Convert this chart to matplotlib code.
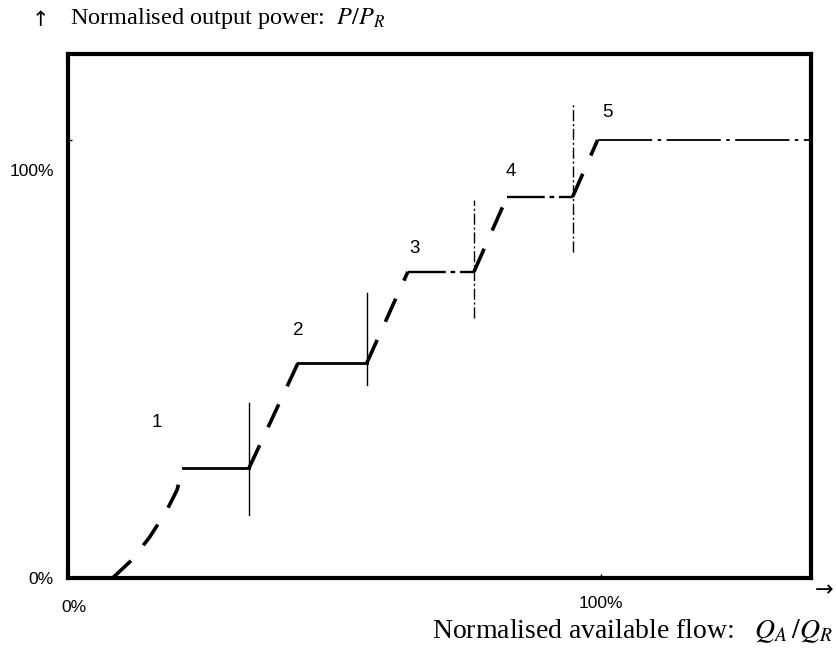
import matplotlib
matplotlib.use("Agg")
import matplotlib.pyplot as plt
import matplotlib.transforms as mtransforms

plt.rcParams["mathtext.fontset"] = "stix"

# rising (dashed) part of the curve: flow % -> power %
rise_x = [[8.4, 12.0, 15.4, 18.6, 20.5, 21.6],
          [34.0, 43.2],
          [56.1, 63.8],
          [76.2, 82.4],
          [94.7, 99.4]]
rise_y = [[0.0, 4.1, 9.4, 15.5, 20.1, 25.1],
          [25.1, 49.1],
          [49.1, 69.9],
          [69.9, 87.0],
          [87.0, 100.0]]

# flat steps (one per turbine stage)
step_start = [21.6, 43.2, 63.8, 82.4, 99.4]
step_end = [34.0, 56.1, 76.2, 94.7, 139.4]
step_level = [25.1, 49.1, 69.9, 87.0, 100.0]

# vertical switching lines
switch_x = [34.0, 56.1, 76.2, 94.7]
switch_lo = [14.4, 44.1, 59.4, 74.4]
switch_hi = [40.0, 65.1, 86.3, 108.2]

stage_labels = ["1", "2", "3", "4", "5"]
label_x = [16.7, 43.2, 65.1, 83.1, 101.3]
label_y = [35.6, 56.6, 75.3, 92.7, 106.2]

fig = plt.figure(figsize=(8.36, 6.51), dpi=100)
ax = fig.add_axes([0.081, 0.112, 0.889, 0.805])

for xs, ys in zip(rise_x, rise_y):
    ax.plot(xs, ys, color="black", lw=2.6, dashes=(7, 5.5), solid_capstyle="butt")

step_styles = [dict(ls="-", lw=2.0), dict(ls="-", lw=2.0),
               dict(dashes=(16, 2, 2, 2), lw=1.7), dict(dashes=(16, 2, 2, 2), lw=1.7),
               dict(dashes=(30, 3, 2, 3), lw=1.3)]
for a, b, lev, st in zip(step_start, step_end, step_level, step_styles):
    ax.plot([a, b], [lev, lev], color="black", **st)

switch_styles = [dict(ls="-"), dict(ls="-"),
                 dict(dashes=(8, 2, 1.5, 2)), dict(dashes=(8, 2, 1.5, 2))]
for x, lo, hi, st in zip(switch_x, switch_lo, switch_hi, switch_styles):
    ax.plot([x, x], [lo, hi], color="black", lw=1.0, **st)

for t, x, y in zip(stage_labels, label_x, label_y):
    ax.text(x, y, t, fontsize=13.5, family="Liberation Sans", ha="center", va="center")

ax.set_xlim(0, 139.4)
ax.set_ylim(0, 119.6)
ax.set_xticks([0, 100])
ax.set_xticklabels(["0%", "100%"])
ax.set_yticks([0, 100])
ax.set_yticklabels(["0%", "100%"])
ax.tick_params(direction="in", length=3, width=1, labelsize=12.5)
ax.tick_params(axis="x", pad=13)
ax.tick_params(axis="y", pad=10)
for lab in ax.get_xticklabels() + ax.get_yticklabels():
    lab.set_family("Liberation Sans")
ylabs = ax.get_yticklabels()
ylabs[1].set_transform(ylabs[1].get_transform() +
                       mtransforms.ScaledTranslation(0, -0.30, fig.dpi_scale_trans))
xlabs = ax.get_xticklabels()
xlabs[0].set_transform(xlabs[0].get_transform() +
                       mtransforms.ScaledTranslation(0.06, -0.04, fig.dpi_scale_trans))

for s in ax.spines.values():
    s.set_linewidth(3)

fig.text(0.038, 0.970, "\u2191", fontsize=15, family="DejaVu Sans", ha="left", va="center")
fig.text(0.084, 0.972, "Normalised output power:  $P/P_R$", fontsize=17.5,
         family="Liberation Serif", ha="left", va="center")
fig.text(0.997, 0.093, "\u2192", fontsize=16, family="DejaVu Sans", ha="right", va="center")
fig.text(0.996, 0.030, "Normalised available flow:   $Q_A\\,/Q_R$", fontsize=20,
         family="Liberation Serif", ha="right", va="center")

fig.savefig("out.png", dpi=100, facecolor="white")
